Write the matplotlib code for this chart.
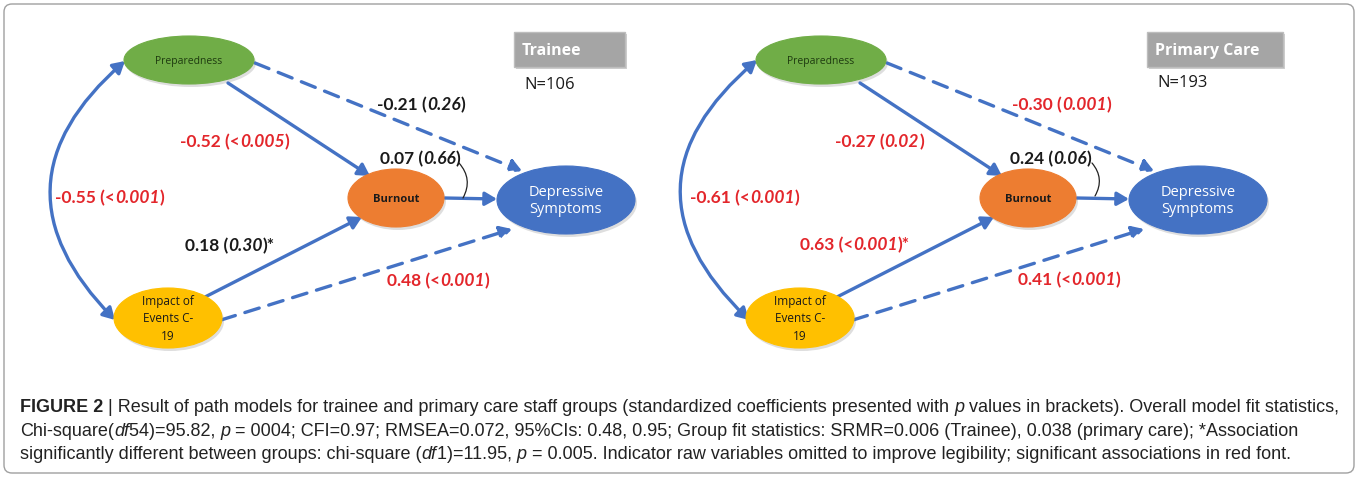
import matplotlib
matplotlib.use("Agg")
import matplotlib.pyplot as plt
from matplotlib.patches import Ellipse, FancyArrowPatch, FancyBboxPatch, Rectangle

# ---- data ----
groups = ["Trainee", "Primary Care"]
group_n = [106, 193]
path_names = ["Prep->Dep", "Prep->Burn", "Burn->Dep", "Prep<->Impact", "Impact->Burn", "Impact->Dep"]
coef_trainee = ["-0.21", "-0.52", "0.07", "-0.55", "0.18", "0.48"]
pval_trainee = ["0.26", "<0.005", "0.66", "<0.001", "0.30", "<0.001"]
sig_trainee = [False, True, False, True, False, True]
coef_primary = ["-0.30", "-0.27", "0.24", "-0.61", "0.63", "0.41"]
pval_primary = ["0.001", "0.02", "0.06", "<0.001", "<0.001", "<0.001"]
sig_primary = [True, True, False, True, True, True]
group_diff = [False, False, False, False, True, False]

# ---- layout (pixel coords, y down) ----
W, H = 1358, 478
panel_dx = [0, 632]
nodes = {
    "prep": ((189, 60), 130, 48, "#70ad47", "Preparedness", "#1e3a10", 7.5, "normal", 1.2),
    "burn": ((396, 198), 96, 58, "#ed7d31", "Burnout", "#1a1a1a", 8, "bold", 1.2),
    "dep": ((566, 200), 138, 68, "#4472c4", "Depressive\nSymptoms", "white", 10.5, "normal", 1.25),
    "imp": ((168, 318), 108, 60, "#ffc000", "Impact of\nEvents C-\n19", "#1a1a1a", 8.5, "normal", 1.4),
}
arrows = [  # start, end, dashed
    ((255, 63), (522, 171), True),
    ((228, 83), (370, 176), False),
    ((445, 198), (497, 199), False),
    ((205, 297), (362, 217), False),
    ((221, 320), (512, 229), True),
]
curve_pts = [((125, 61), (115, 320), 0.53), ((757, 60), (749, 320), 0.55)]
label_pos = [
    [(377, 104), (180, 141), (380, 158), (55, 197), (185, 245), (387, 280)],
    [(1012, 104), (835, 141), (1010, 158), (690, 197), (800, 244), (1018, 279)],
]
box_pos = [(514, 32, 111, 35), (1147, 32, 136, 35)]
n_pos = [(524, 85), (1157, 83)]
hook = [((459, 163), (463, 198)), ((1092, 163), (1095, 196))]

RED = "#e3262b"
BLUE = "#4472c4"
LFONT = "Lato"

fig = plt.figure(figsize=(W / 100, H / 100), dpi=100)
ax = fig.add_axes([0, 0, 1, 1])
ax.set_xlim(0, W)
ax.set_ylim(H, 0)
ax.axis("off")

ax.add_patch(FancyBboxPatch((4, 4), W - 8, H - 9, boxstyle="round,pad=0,rounding_size=8",
                            fc="white", ec="#a0a0a0", lw=1.0))


def chain(x, y, pieces, size, color, family):
    # pieces: (text, italic, weight)
    arts = []
    prev = None
    for s, italic, wt in pieces:
        style = "italic" if italic else "normal"
        if prev is None:
            prev = ax.text(x, y, s, fontsize=size, color=color, family=family,
                           weight=wt, style=style, va="baseline", ha="left")
        else:
            prev = ax.annotate(s, xy=(1, 0), xycoords=prev, fontsize=size, color=color,
                               family=family, weight=wt, style=style, va="bottom", ha="left")
        arts.append(prev)
    return arts


for g in range(2):
    dx = panel_dx[g]
    coefs = [coef_trainee, coef_primary][g]
    pvals = [pval_trainee, pval_primary][g]
    sigs = [sig_trainee, sig_primary][g]

    for key, ((cx, cy), w, h, fc, txt, tc, fs, fw, ls) in nodes.items():
        ax.add_patch(Ellipse((cx + dx + 2, cy + 3), w, h, fc="#c8c8c8", ec="none", alpha=0.6, zorder=2))
        ax.add_patch(Ellipse((cx + dx, cy), w, h, fc=fc, ec=fc, lw=0.8, zorder=3))
        ax.text(cx + dx, cy + 1, txt, ha="center", va="center", fontsize=fs, color=tc,
                weight=fw, family="Open Sans", linespacing=ls, zorder=4)

    for (s, e, dashed) in arrows:
        a = FancyArrowPatch((s[0] + dx, s[1]), (e[0] + dx, e[1]), arrowstyle="-|>,head_length=7,head_width=4",
                            color=BLUE, lw=2.4, linestyle=(0, (4.5, 3)) if dashed else "-",
                            shrinkA=0, shrinkB=0, zorder=2)
        ax.add_patch(a)

    (s, e, rad) = curve_pts[g]
    ax.add_patch(FancyArrowPatch(s, e, arrowstyle="<|-|>,head_length=7,head_width=4",
                                 connectionstyle="arc3,rad=%s" % rad, color=BLUE, lw=2.4,
                                 shrinkA=0, shrinkB=0, zorder=2))

    (h0, h1) = hook[g]
    ax.add_patch(FancyArrowPatch(h0, h1, arrowstyle="-", connectionstyle="arc3,rad=-0.35",
                                 color="#222222", lw=0.9, shrinkA=0, shrinkB=0, zorder=4))

    for i in range(len(path_names)):
        x, y = label_pos[g][i]
        pv = pvals[i]
        pre = "<" if pv.startswith("<") else ""
        num = pv.lstrip("<")
        tail = ")*" if group_diff[i] else ")"
        color = RED if sigs[i] else "#1a1a1a"
        chain(x, y + 6, [(coefs[i] + " (" + pre, False, "bold"), (num, True, "bold"), (tail, False, "bold")],
              12.5, color, LFONT)

    bx, by, bw, bh = box_pos[g]
    ax.add_patch(Rectangle((bx + 2, by + 2), bw, bh, fc="#d0d0d0", ec="none", zorder=1))
    ax.add_patch(Rectangle((bx, by), bw, bh, fc="#a5a5a5", ec="#bdbdbd", zorder=2))
    ax.text(bx + 8, by + bh / 2 + 1, groups[g], fontsize=11.5, weight="bold", color="white",
            family="Open Sans", va="center", ha="left", zorder=3)
    ax.text(n_pos[g][0], n_pos[g][1], "N=%d" % group_n[g], fontsize=12, color="#1a1a1a",
            family="Open Sans", va="center", ha="left")

# ---- caption ----
CF = "Liberation Sans"
cap = [
    [("FIGURE 2", False, "bold"), (" | Result of path models for trainee and primary care staff groups (standardized coefficients presented with ", False, "normal"),
     ("p", True, "normal"), (" values in brackets). Overall model fit statistics,", False, "normal")],
    [("Chi-square(", False, "normal"), ("df", True, "normal"), ("54)=95.82, ", False, "normal"), ("p", True, "normal"),
     (" = 0004; CFI=0.97; RMSEA=0.072, 95%CIs: 0.48, 0.95; Group fit statistics: SRMR=0.006 (Trainee), 0.038 (primary care); *Association", False, "normal")],
    [("significantly different between groups: chi-square (", False, "normal"), ("df", True, "normal"), ("1)=11.95, ", False, "normal"),
     ("p", True, "normal"), (" = 0.005. Indicator raw variables omitted to improve legibility; significant associations in red font.", False, "normal")],
]
cap_y = [412, 436, 459]

# fit the first caption line to the frame width
trial = chain(20, cap_y[0], cap[0], 10, "#222222", CF)
fig.canvas.draw()
right = trial[-1].get_window_extent().x1
for t in trial:
    t.remove()
cs = 10 * (1338 - 20) / (right - 20)

for line, y in zip(cap, cap_y):
    chain(20, y, line, cs, "#222222", CF)

fig.savefig("out.png", dpi=100)
